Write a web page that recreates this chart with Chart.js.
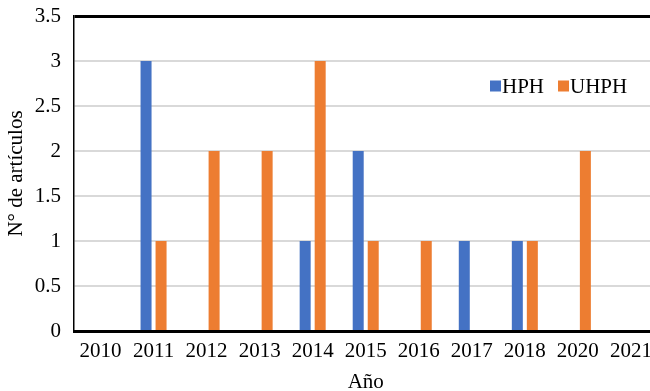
<!DOCTYPE html>
<html>
<head>
<meta charset="utf-8">
<script src="https://cdn.jsdelivr.net/npm/chart.js@4"></script>
<style>
html, body { margin: 0; padding: 0; background: #fff; overflow: hidden; }
#wrap { width: 660px; height: 391px; }
</style>
</head>
<body>
<div id="wrap"><canvas id="canvas"></canvas></div>
<script>
var years = ["2010", "2011", "2012", "2013", "2014", "2015", "2016", "2017", "2018", "2020", "2021"];
var hph   = [0, 3, 0, 0, 1, 2, 0, 1, 1, 0, 0];
var uhph  = [0, 1, 2, 2, 3, 1, 1, 0, 1, 2, 0];
var yMin = 0;
var yMax = 3.5;
var yStep = 0.5;

var serif = "'Liberation Serif', 'Times New Roman', serif";

// legend drawn inside the plot, like the original
var insideLegend = {
	id: 'insideLegend',
	afterDraw: function(chart, args, opts) {
		var ctx = chart.ctx;
		var x = opts.x;
		var y = opts.y;
		ctx.save();
		ctx.font = "21px " + serif;
		ctx.textBaseline = 'middle';
		chart.data.datasets.forEach(function(ds) {
			ctx.fillStyle = ds.backgroundColor;
			ctx.fillRect(x, y - 5.5, 11, 11);
			ctx.fillStyle = '#000';
			ctx.fillText(ds.label, x + 12, y + 1);
			x += 12 + ctx.measureText(ds.label).width + 14;
		});
		ctx.restore();
	}
};

var ctx = document.getElementById("canvas").getContext("2d");
var chart = new Chart(ctx, {
	type: 'bar',
	data: {
		labels: years,
		datasets: [
			{ label: "HPH", data: hph, backgroundColor: "#4472C4" },
			{ label: "UHPH", data: uhph, backgroundColor: "#ED7D31" }
		]
	},
	options: {
		responsive: true,
		maintainAspectRatio: false,
		animation: false,
		categoryPercentage: 0.566,
		barPercentage: 0.733,
		layout: { padding: { top: 16, right: 2, left: 0, bottom: 0 } },
		plugins: {
			legend: { display: false },
			tooltip: { enabled: false },
			insideLegend: { x: 490, y: 86 }
		},
		scales: {
			x: {
				grid: { display: false, drawTicks: false },
				border: { color: '#000', width: 3 },
				ticks: { color: '#000', font: { family: serif, size: 21 }, padding: 8, maxRotation: 0, autoSkip: false },
				title: { display: true, text: "Año", color: '#000', font: { family: serif, size: 21, lineHeight: 0.8 }, padding: { top: 6, bottom: 0 } },
				afterFit: function(s) { s.height = 60; }
			},
			y: {
				min: yMin,
				max: yMax,
				ticks: { stepSize: yStep, color: '#000', font: { family: serif, size: 21 }, padding: 13,
					callback: function(v) { return String(v); } },
				grid: {
					drawTicks: false,
					color: function(c) { return c.tick && c.tick.value === yMax ? '#000' : '#d9d9d9'; },
					lineWidth: function(c) { return c.tick && c.tick.value === yMax ? 3 : 2; }
				},
				border: { color: '#000', width: 1.5 },
				title: { display: true, text: "N° de artículos", color: '#000', font: { family: serif, size: 21 }, padding: { top: 4, bottom: 2 } },
				afterFit: function(s) { s.width = 74; s.paddingTop = 0; s.paddingBottom = 0; }
			}
		}
	},
	plugins: [insideLegend]
});
</script>
</body>
</html>
